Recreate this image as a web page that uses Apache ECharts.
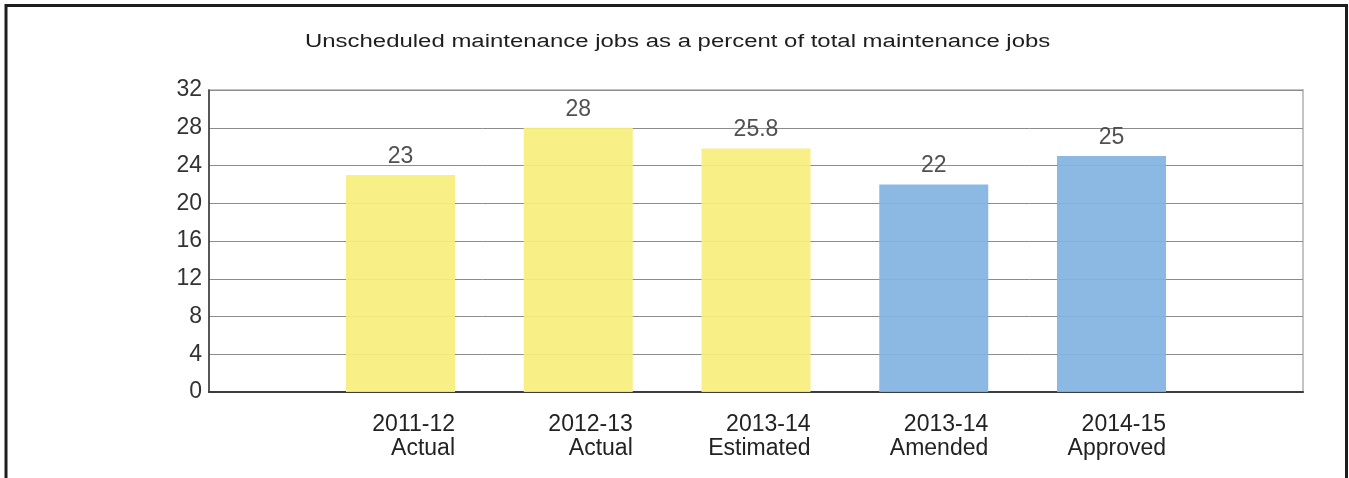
<!DOCTYPE html>
<html>
<head>
<meta charset="utf-8">
<title>Unscheduled maintenance jobs</title>
<script src="https://cdn.jsdelivr.net/npm/echarts@6/dist/echarts.min.js"></script>
<style>
  html, body { margin: 0; padding: 0; background: #ffffff; }
  #chart { width: 1349px; height: 478px; }
</style>
</head>
<body>
<div id="chart"></div>
<script>
// Fiscal periods and their status
const years = ['2011-12', '2012-13', '2013-14', '2013-14', '2014-15'];
const statuses = ['Actual', 'Actual', 'Estimated', 'Amended', 'Approved'];
// Unscheduled jobs as % of all maintenance jobs
const values = [23, 28, 25.8, 22, 25];
// Which colour group each bar belongs to
const groups = ['past', 'past', 'past', 'plan', 'plan'];
const yTicks = [0, 4, 8, 12, 16, 20, 24, 28, 32];

const titleText = 'Unscheduled maintenance jobs as a percent of total maintenance jobs';
const FONT = "'Liberation Sans', Arial, Helvetica, sans-serif";
const groupColors = { past: '#F9EE7E', plan: '#82B4E1' };

// Plot frame geometry (pixels)
const plotLeft = 209, plotTop = 90, plotWidth = 1094, plotHeight = 302;
const band = 177.75;            // distance between bar centres
const edge = 191.5;             // outer centre offset from the plot edges
const barsLeft = plotLeft + edge - band / 2;
const barsWidth = band * years.length;

const chart = echarts.init(document.getElementById('chart'), null, { renderer: 'canvas' });

chart.setOption({
  animation: false,
  backgroundColor: '#ffffff',
  textStyle: { fontFamily: FONT },
  graphic: [
    {
      type: 'rect',
      shape: { x: 6, y: 5.5, width: 1340.5, height: 600 },
      style: { fill: 'none', stroke: '#1e1e1e', lineWidth: 3 },
      silent: true,
      z: 10
    },
    {
      type: 'text',
      x: 305,
      y: 42,
      scaleX: 1.33,
      style: {
        text: titleText,
        font: '18px ' + FONT,
        fill: '#1e1e1e',
        textAlign: 'left',
        textVerticalAlign: 'middle'
      },
      silent: true,
      z: 10
    }
  ],
  grid: [
    {
      left: plotLeft, top: plotTop, width: plotWidth, height: plotHeight,
      show: true, borderColor: '#c4c4c4', borderWidth: 2, containLabel: false
    },
    {
      left: barsLeft, top: plotTop, width: barsWidth, height: plotHeight,
      show: false, containLabel: false
    }
  ],
  xAxis: [
    {
      gridIndex: 0, type: 'value', min: 0, max: 1,
      axisLine: { show: true, onZero: false, lineStyle: { color: '#3c3c3c', width: 2 } },
      axisTick: { show: false }, axisLabel: { show: false }, splitLine: { show: false }
    },
    {
      gridIndex: 1, type: 'category', data: years,
      axisLine: { show: false }, axisTick: { show: false }, splitLine: { show: false },
      axisLabel: {
        interval: 0,
        margin: 21,
        formatter: (v, i) => '{t|' + years[i] + '}\n{t|' + statuses[i] + '}',
        rich: {
          t: { width: 109, align: 'right', fontSize: 23, lineHeight: 24, color: '#222222', fontFamily: FONT }
        }
      }
    }
  ],
  yAxis: [
    {
      gridIndex: 0, type: 'value', min: yTicks[0], max: yTicks[yTicks.length - 1], interval: 4,
      axisLine: { show: true, lineStyle: { color: '#333333', width: 1.5 } },
      axisTick: { show: false },
      splitLine: { show: true, lineStyle: { color: '#8c8c8c', width: 1 } },
      axisLabel: {
        margin: 7, fontSize: 23, color: '#333333', fontFamily: FONT,
        padding: [0, 0, 9, 0]
      }
    },
    {
      gridIndex: 1, type: 'value', min: yTicks[0], max: yTicks[yTicks.length - 1], interval: 4,
      show: false, splitLine: { show: false }
    }
  ],
  series: [
    {
      type: 'bar',
      xAxisIndex: 1,
      yAxisIndex: 1,
      barWidth: 109,
      data: values.map((v, i) => ({
        value: v,
        itemStyle: { color: groupColors[groups[i]], opacity: 0.93 }
      })),
      label: {
        show: true,
        position: 'top',
        distance: 7,
        fontSize: 23,
        color: '#444444',
        fontFamily: FONT
      }
    }
  ]
});
</script>
</body>
</html>
